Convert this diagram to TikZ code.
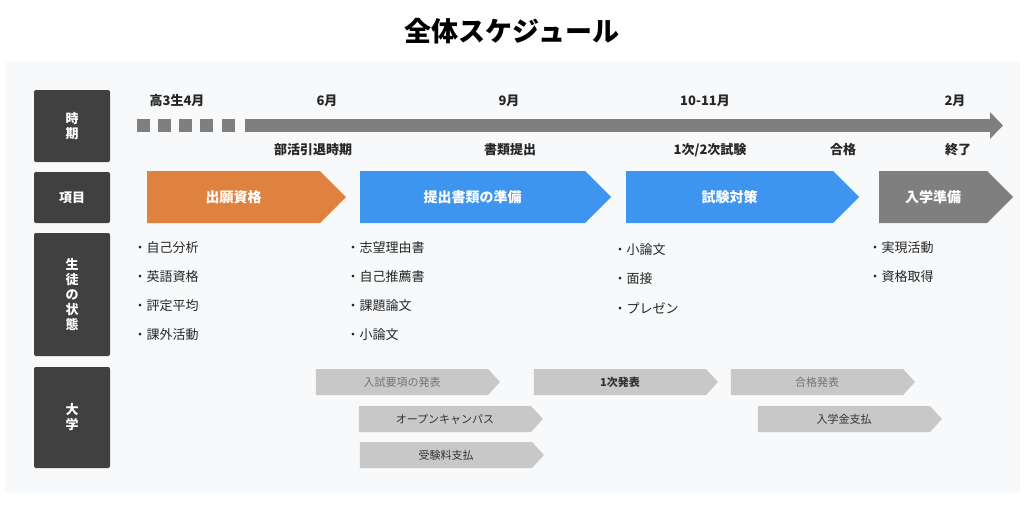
\documentclass[tikz,border=0pt]{standalone}
\usepackage{fontspec}
\setmainfont{Noto Sans CJK JP}
\usetikzlibrary{shapes.symbols,arrows.meta}
\definecolor{panel}{HTML}{F7F9FB}
\definecolor{dark}{HTML}{404040}
\definecolor{orng}{HTML}{E0823F}
\definecolor{blu}{HTML}{3D95F0}
\definecolor{gry}{HTML}{7F7F7F}
\definecolor{lgry}{HTML}{C8C8C8}
\tikzset{
  lab/.style={fill=dark,rounded corners=2pt,text=white,font=\bfseries\fontsize{13}{15}\selectfont,minimum width=76pt,align=center,inner sep=0},
  big/.style={shape=signal,signal to=east,signal pointer angle=90,minimum height=52pt,text=white,font=\bfseries\fontsize{14}{16}\selectfont,inner sep=0},
  small/.style={shape=signal,signal to=east,signal pointer angle=95,fill=lgry,minimum height=26pt,minimum width=184pt,inner sep=0,font=\fontsize{11}{13}\selectfont,text=black!80},
  tl/.style={font=\bfseries\fontsize{13}{15}\selectfont,text=black!85},
  li/.style={font=\fontsize{13}{15}\selectfont,anchor=west,text=black!85},
  sq/.style={fill=gry,minimum size=13pt,inner sep=0}
}
\begin{document}
\begin{tikzpicture}[x=1pt,y=-1pt]
\useasboundingbox (0,0) rectangle (1024,515);
\node[font=\bfseries\fontsize{27}{30}\selectfont] (title) at (512,31) {全体スケジュール};
\fill[panel] (5,62) rectangle (1020,493);
\node[lab,minimum height=72pt] (l1) at (72,126) {時\\期};
\node[lab,minimum height=51pt] (l2) at (72,197.5) {項目};
\node[lab,minimum height=123pt] (l3) at (72,294.5) {生\\徒\\の\\状\\態};
\node[lab,minimum height=101pt] (l4) at (72,417.5) {大\\学};
% timeline
\foreach \x [count=\i] in {143.5,164.5,185.5,206.5,228.5} \node[sq] (s\i) at (\x,125.5) {};
\coordinate (tA) at (245,125.5); \coordinate (tB) at (1003,125.5);
\draw[gry,line width=13pt,-{Triangle[length=13pt,width=26pt]}] (tA) -- (tB);
\node[tl] (m1) at (177,101) {高3生4月};
\node[tl] (m2) at (327,101) {6月};
\node[tl] (m3) at (509,101) {9月};
\node[tl] (m4) at (705,101) {10-11月};
\node[tl] (m5) at (955,101) {2月};
\node[tl] (e1) at (313,150) {部活引退時期};
\node[tl] (e2) at (510,150) {書類提出};
\node[tl] (e3) at (710,150) {1次/2次試験};
\node[tl] (e4) at (843,150) {合格};
\node[tl] (e5) at (958,150) {終了};
% items
\node[big,fill=orng,minimum width=199pt] (p1) at (233.5,197) {出願資格};
\node[big,fill=blu,minimum width=251pt] (p2) at (472.5,197) {提出書類の準備};
\node[big,fill=blu,minimum width=233pt] (p3) at (729.5,197) {試験対策};
\node[big,fill=gry,minimum width=134pt] (p4) at (933,197) {入学準備};
% lists
\node[li] (a1) at (130,248) {・自己分析};
\node[li] (a2) at (130,277) {・英語資格};
\node[li] (a3) at (130,306) {・評定平均};
\node[li] (a4) at (130,335) {・課外活動};
\node[li] (b1) at (343,248) {・志望理由書};
\node[li] (b2) at (343,277) {・自己推薦書};
\node[li] (b3) at (343,306) {・課題論文};
\node[li] (b4) at (343,335) {・小論文};
\node[li] (c1) at (610,250) {・小論文};
\node[li] (c2) at (610,279) {・面接};
\node[li] (c3) at (610,308) {・プレゼン};
\node[li] (d1) at (865,248) {・実現活動};
\node[li] (d2) at (865,277) {・資格取得};
% university
\node[small,text=black!55] (u1) at (402,382) {入試要項の発表};
\node[small,font=\bfseries\fontsize{11}{13}\selectfont] (u2) at (620,382) {1次発表};
\node[small,text=black!55] (u3) at (817,382) {合格発表};
\node[small] (u4) at (445,419) {オープンキャンパス};
\node[small] (u5) at (844,419) {入学金支払};
\node[small] (u6) at (446,455) {受験料支払};
\end{tikzpicture}
\end{document}
